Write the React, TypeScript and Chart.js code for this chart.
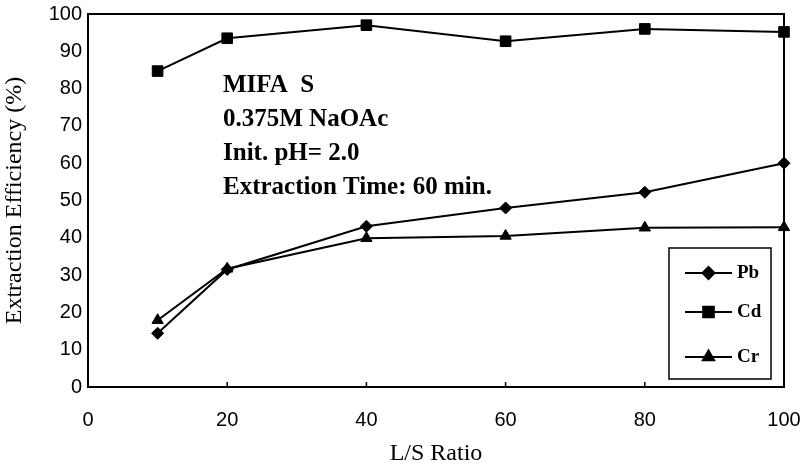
import React, { useEffect, useRef } from "react";
import { Chart, registerables } from "chart.js";
import { drawPoint } from "chart.js/helpers";

Chart.register(...registerables);

const ratios = [10, 20, 40, 60, 80, 100];
const pbValues = [14.4, 31.5, 43.1, 48.0, 52.2, 60.0];
const cdValues = [84.7, 93.5, 97.0, 92.7, 96.0, 95.2];
const crValues = [17.9, 31.7, 39.9, 40.5, 42.7, 42.8];
const xTicks = [0, 20, 40, 60, 80, 100];
const seriesNames = ["Pb", "Cd", "Cr"];
const noteLines = ["MIFA  S", "0.375M NaOAc", "Init. pH= 2.0", "Extraction Time: 60 min."];

const serif = "'Liberation Serif', 'Times New Roman', serif";
const sans = "'Liberation Sans', Arial, sans-serif";

const framePlugin = {
  id: "frame",
  afterDraw(chart: any) {
    const { ctx, chartArea } = chart;
    const { left, right, top, bottom } = chartArea;
    ctx.save();
    ctx.strokeStyle = "#000";
    ctx.lineWidth = 2;
    ctx.strokeRect(left, top, right - left, bottom - top);
    const xs = chart.scales.x;
    ctx.lineWidth = 1.5;
    xTicks.forEach((v) => {
      if (v === 0 || v === 100) return;
      const px = xs.getPixelForValue(v);
      ctx.beginPath();
      ctx.moveTo(px, bottom);
      ctx.lineTo(px, bottom - 5);
      ctx.stroke();
    });
    ctx.fillStyle = "#000";
    ctx.font = `bold 25px ${serif}`;
    ctx.textBaseline = "middle";
    ctx.textAlign = "left";
    noteLines.forEach((t, i) => {
      ctx.fillText(t, left + 135, top + 72 + i * 34);
    });
    const bx = right - 115;
    const bw = 102;
    const by = bottom - 139;
    const bh = 131;
    ctx.lineWidth = 1.5;
    ctx.strokeRect(bx, by, bw, bh);
    const ys = [25, 64, 109];
    chart.data.datasets.forEach((ds: any, i: number) => {
      const y = by + ys[i];
      ctx.lineWidth = 2;
      ctx.beginPath();
      ctx.moveTo(bx + 16, y);
      ctx.lineTo(bx + 63, y);
      ctx.stroke();
      ctx.fillStyle = "#000";
      drawPoint(ctx, { pointStyle: ds.pointStyle, radius: ds.pointRadius, rotation: 0, borderWidth: 1 }, bx + 39.5, y);
      ctx.font = `bold 19px ${serif}`;
      ctx.fillStyle = "#000";
      ctx.fillText(ds.label, bx + 68, y);
    });
    ctx.restore();
  },
};

export default function App() {
  const ref = useRef<HTMLCanvasElement>(null);
  useEffect(() => {
    const mk = (label: string, data: number[], style: string, r: number) => ({
      label,
      data: ratios.map((x, i) => ({ x, y: data[i] })),
      borderColor: "#000",
      backgroundColor: "#000",
      borderWidth: 2,
      pointStyle: style,
      pointRadius: r,
      pointBackgroundColor: "#000",
      pointBorderColor: "#000",
      pointBorderWidth: 1,
      tension: 0,
      clip: false,
    });
    const chart = new Chart(ref.current!, {
      type: "line",
      data: {
        datasets: [
          mk(seriesNames[0], pbValues, "rectRot", 6),
          mk(seriesNames[1], cdValues, "rect", 7.5),
          mk(seriesNames[2], crValues, "triangle", 6.5),
        ],
      },
      options: {
        animation: false,
        responsive: false,
        maintainAspectRatio: false,
        layout: { padding: { top: 14, right: 20, bottom: 3, left: 0 } },
        plugins: { legend: { display: false }, tooltip: { enabled: false } },
        scales: {
          x: {
            type: "linear",
            min: 0,
            max: 100,
            afterBuildTicks: (s: any) => {
              s.ticks = xTicks.map((v) => ({ value: v }));
            },
            afterFit: (s: any) => {
              s.height = 81;
              s.paddingRight = 0;
              s.paddingLeft = 0;
            },
            grid: { display: false, drawTicks: false },
            border: { display: false },
            ticks: { color: "#000", font: { family: sans, size: 20 }, padding: 21, maxRotation: 0 },
            title: { display: true, text: "L/S Ratio", color: "#000", font: { family: serif, size: 24 }, padding: 0 },
          },
          y: {
            min: 0,
            max: 100,
            afterFit: (s: any) => {
              s.width = 88;
              s.paddingTop = 0;
              s.paddingBottom = 0;
            },
            grid: { display: false, drawTicks: false },
            border: { display: false },
            ticks: { stepSize: 10, color: "#000", font: { family: sans, size: 20 }, padding: 6 },
            title: { display: true, text: "Extraction Efficiency (%)", color: "#000", font: { family: serif, size: 24 }, padding: 0 },
          },
        },
      },
      plugins: [framePlugin],
    } as any);
    return () => chart.destroy();
  }, []);
  return (
    <div style={{ position: "fixed", left: 0, top: 0, width: 804, height: 471, background: "#fff" }}>
      <canvas ref={ref} width={804} height={471} style={{ display: "block" }} />
    </div>
  );
}
